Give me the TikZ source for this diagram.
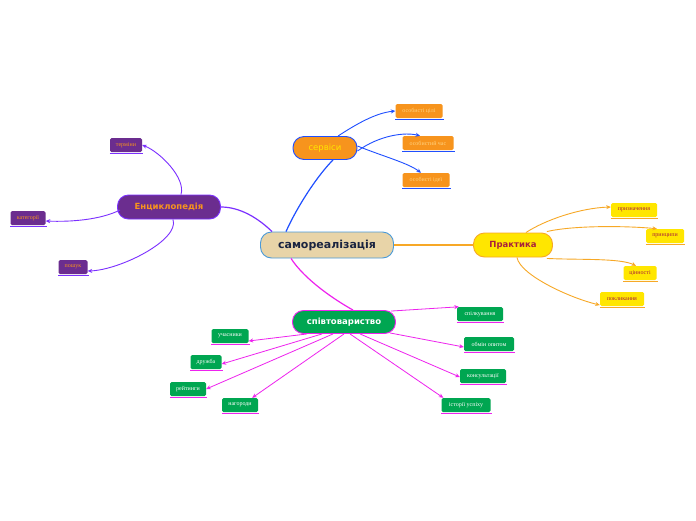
\documentclass[tikz,border=0pt]{standalone}
\usepackage{fontspec}
\setmainfont{Liberation Serif}
\newfontfamily\dvs{DejaVu Sans}
\usetikzlibrary{arrows.meta}
\definecolor{cblue}{HTML}{1F4FFF}
\definecolor{corange}{HTML}{F7941D}
\definecolor{clorange}{HTML}{F7A826}
\definecolor{cyellow}{HTML}{FFE600}
\definecolor{cdred}{HTML}{A8203C}
\definecolor{cpurple}{HTML}{6B2D8F}
\definecolor{cviolet}{HTML}{7B2FFF}
\definecolor{cgreen}{HTML}{00A651}
\definecolor{cmag}{HTML}{EE22EE}
\definecolor{cbeige}{HTML}{E8D4A8}
\definecolor{clblue}{HTML}{4A9AD8}
\definecolor{cnavy}{HTML}{1A2440}
\definecolor{cpeach}{HTML}{FFD27F}
\tikzset{
  x=1pt,y=-1pt,
  mainbox/.style={rounded corners=11pt,line width=0.9pt,inner sep=0pt,align=center},
  leaf/.style={rounded corners=1.5pt,inner sep=0pt,minimum height=14pt,font=\fontsize{6}{7}\selectfont},
  oleaf/.style={leaf,fill=corange,text=cpeach},
  yleaf/.style={leaf,fill=cyellow,text=cdred},
  pleaf/.style={leaf,fill=cpurple,text=corange},
  gleaf/.style={leaf,fill=cgreen,text=white},
  tip/.style={-{Stealth[length=4.5pt,width=4pt]}},
  ulb/.style={draw=cblue,line width=1.3pt},
  ulo/.style={draw=clorange,line width=1.3pt},
  ulv/.style={draw=cviolet,line width=1.3pt},
  ulm/.style={draw=cmag,line width=1.3pt},
}
\begin{document}
\begin{tikzpicture}
\fill[white] (0,0) rectangle (696,520);
\useasboundingbox (0,0) rectangle (696,520);

% main nodes
\node[mainbox,fill=cbeige,draw=clblue,minimum width=133pt,minimum height=26pt,text=cnavy,font=\dvs\bfseries\fontsize{11}{13}\selectfont] (c) at (327,245) {самореалізація};
\node[mainbox,fill=corange,draw=cblue,minimum width=64pt,minimum height=23pt,text=cyellow,font=\dvs\fontsize{8.5}{10}\selectfont] (s) at (325,148) {сервіси};
\node[mainbox,fill=cyellow,draw=clorange,minimum width=79pt,minimum height=24pt,text=cdred,font=\dvs\bfseries\fontsize{8.5}{10}\selectfont] (p) at (513,245) {Практика};
\node[mainbox,fill=cpurple,draw=cviolet,minimum width=103pt,minimum height=24pt,text=corange,font=\dvs\bfseries\fontsize{8.5}{10}\selectfont] (e) at (169,207) {Енциклопедія};
\node[mainbox,fill=cgreen,draw=cmag,minimum width=103pt,minimum height=23pt,text=white,font=\dvs\bfseries\fontsize{8.5}{10}\selectfont] (g) at (344,322) {співтовариство};

% leaves
\node[oleaf,minimum width=47pt] (s1) at (419,111) {особисті цілі};
\node[oleaf,minimum width=51pt] (s2) at (428,143) {особистий час};
\node[oleaf,minimum width=47pt] (s3) at (426,180) {особисті ідеї};

\node[yleaf,minimum width=46pt] (p1) at (634,210) {призначення};
\node[yleaf,minimum width=38pt] (p2) at (665,236) {принципи};
\node[yleaf,minimum width=33pt] (p3) at (640,273) {цінності};
\node[yleaf,minimum width=44pt] (p4) at (622,299) {покликання};

\node[pleaf,minimum width=32pt] (e1) at (126,145) {терміни};
\node[pleaf,minimum width=35pt] (e2) at (28,218) {категорії};
\node[pleaf,minimum width=29pt] (e3) at (73,267) {пошук};

\node[gleaf,minimum width=37pt] (g1) at (230,336) {учасники};
\node[gleaf,minimum width=31pt] (g2) at (206,362) {дружба};
\node[gleaf,minimum width=36pt] (g3) at (188,389) {рейтинги};
\node[gleaf,minimum width=36pt] (g4) at (240,405) {нагороди};
\node[gleaf,minimum width=46pt] (g5) at (480,314) {спілкування};
\node[gleaf,minimum width=50pt] (g6) at (489,344) {обмін опитом};
\node[gleaf,minimum width=46pt] (g7) at (483,376) {консультації};
\node[gleaf,minimum width=49pt] (g8) at (466,405) {історії успіху};

% underlines
\foreach \n in {s1,s2,s3} \draw[ulb] ([yshift=-1.5pt]\n.south west) -- ([yshift=-1.5pt,xshift=1pt]\n.south east);
\foreach \n in {p1,p2,p3,p4} \draw[ulo] ([yshift=-1.5pt]\n.south west) -- ([yshift=-1.5pt,xshift=1pt]\n.south east);
\foreach \n in {e1,e2,e3} \draw[ulv] ([yshift=-1.5pt]\n.south west) -- ([yshift=-1.5pt,xshift=1pt]\n.south east);
\foreach \n in {g1,g2,g3,g4,g5,g6,g7,g8} \draw[ulm] ([yshift=-1.5pt]\n.south west) -- ([yshift=-1.5pt,xshift=1pt]\n.south east);

% connectors: сервіси
\draw[cblue,line width=1.2pt] ([xshift=-41pt]c.north) .. controls (298,205) and (318,175) .. ([xshift=8pt]s.south);
\draw[cblue,line width=0.9pt,tip] ([xshift=13pt]s.north) .. controls (355,125) and (375,113) .. (s1.west);
\draw[cblue,line width=0.9pt,tip] ([yshift=-3pt]s.east) .. controls (380,135) and (405,132) .. ([xshift=-8pt]s2.north);
\draw[cblue,line width=0.9pt,tip] ([yshift=2pt]s.east) .. controls (385,157) and (408,163) .. ([xshift=-5pt]s3.north);

% Практика
\draw[clorange,line width=1.2pt] (c.east) -- (p.west);
\draw[clorange,line width=0.9pt,tip] ([xshift=-27pt]p.north east) .. controls (545,220) and (580,208) .. ([yshift=3pt]p1.west);
\draw[clorange,line width=0.9pt,tip] ([xshift=-6pt,yshift=1pt]p.north east) .. controls (575,225) and (630,226) .. ([xshift=-8pt]p2.north);
\draw[clorange,line width=0.9pt,tip] ([xshift=-6pt,yshift=-1pt]p.south east) .. controls (580,260) and (620,258) .. ([xshift=-4pt]p3.north);
\draw[clorange,line width=0.9pt,tip] ([xshift=4pt]p.south) .. controls (520,275) and (570,298) .. ([yshift=-6pt]p4.west);

% Енциклопедія
\draw[cviolet,line width=1.2pt] ([xshift=-55pt]c.north) .. controls (258,218) and (240,207) .. (e.east);
\draw[cviolet,line width=0.9pt,tip] ([xshift=12pt]e.north) .. controls (186,178) and (160,152) .. (e1.east);
\draw[cviolet,line width=0.9pt,tip] ([xshift=3pt,yshift=-3pt]e.west) .. controls (100,220) and (70,222) .. ([yshift=-3pt]e2.east);
\draw[cviolet,line width=0.9pt,tip] ([xshift=4pt]e.south) .. controls (180,240) and (120,270) .. ([yshift=-4pt]e3.east);

% співтовариство
\draw[cmag,line width=1.2pt] ([xshift=-36pt]c.south) .. controls (305,280) and (335,300) .. ([xshift=9pt]g.north);
\draw[cmag,line width=0.8pt,tip] ([xshift=-37pt]g.south) -- ([yshift=-5pt]g1.east);
\draw[cmag,line width=0.8pt,tip] ([xshift=-22pt]g.south) -- ([yshift=-2pt]g2.east);
\draw[cmag,line width=0.8pt,tip] ([xshift=-11pt]g.south) -- (g3.east);
\draw[cmag,line width=0.8pt,tip] (g.south) -- ([xshift=-6pt]g4.north east);
\draw[cmag,line width=0.8pt,tip] ([xshift=-5pt,yshift=-1pt]g.north east) -- ([xshift=2pt]g5.north west);
\draw[cmag,line width=0.8pt,tip] ([xshift=-6pt,yshift=1pt]g.south east) -- ([yshift=-3pt]g6.west);
\draw[cmag,line width=0.8pt,tip] ([xshift=16pt]g.south) -- ([yshift=-1pt]g7.west);
\draw[cmag,line width=0.8pt,tip] ([xshift=6pt]g.south) -- ([xshift=2pt]g8.north west);
\end{tikzpicture}
\end{document}
